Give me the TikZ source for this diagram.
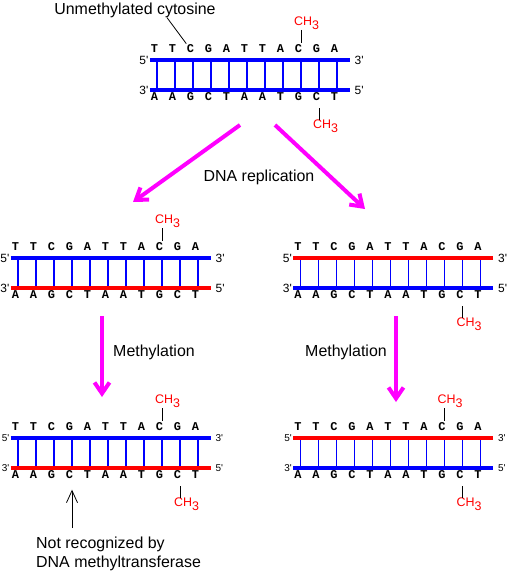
\documentclass[tikz,border=0pt]{standalone}
\usepackage{fontspec}
\setsansfont{Liberation Sans}
\setmonofont{Liberation Mono}
\usepackage{tikz}
\usetikzlibrary{arrows.meta,positioning}

\definecolor{arrowpink}{RGB}{255,0,255}
\newcommand{\chthree}{CH\raisebox{-4bp}{3}}
\newcommand{\pr}{\textquotesingle}

\tikzset{
  base/.style={font=\ttfamily\bfseries\fontsize{12}{12}\selectfont, inner sep=0pt, text height=7bp, text depth=0pt},
  methyl/.style={font=\sffamily\fontsize{12.5}{12.5}\selectfont, text=red, inner sep=0pt},
  endlabel/.style={font=\sffamily\fontsize{12}{12}\selectfont, inner sep=1bp},
  note/.style={font=\sffamily\fontsize{16}{19}\selectfont, inner sep=0pt},
  strandB/.style={line width=4bp, blue},
  strandR/.style={line width=4bp, red},
  rung/.style={line width=1.4bp, blue},
  tick/.style={line width=0.8bp},
  bigarrow/.style={arrowpink, line width=4bp, -{Straight Barb[length=11bp,width=15bp]}},
  pointer/.style={line width=0.8bp, -{Straight Barb[length=12bp,width=11bp]}}
}

\begin{document}
\begin{tikzpicture}[x=1bp, y=-1bp, >=Stealth]
  \useasboundingbox (0,0) rectangle (509,572);

  \begin{scope}[shift={(157,60)}]
    \foreach \i in {0,...,10} {
      \coordinate (par-u\i) at (18*\i,0);
      \coordinate (par-d\i) at (18*\i,30);
      \draw[rung] (par-u\i) -- (par-d\i);
    }
    \foreach \b [count=\i from 0] in {T,T,C,G,A,T,T,A,C,G,A}
      \node[base] (par-t\i) at (18*\i-2.5,-11) {\b};
    \foreach \b [count=\i from 0] in {A,A,G,C,T,A,A,T,G,C,T}
      \node[base] (par-b\i) at (18*\i-2.5,37) {\b};
    \coordinate (par-tl) at (-7.5,0);
    \coordinate (par-tr) at (192.5,0);
    \coordinate (par-bl) at (-7.5,30);
    \coordinate (par-br) at (192.5,30);
    \draw[strandB] (par-tl) -- (par-tr);
    \draw[strandB] (par-bl) -- (par-br);
    \node[endlabel, left] (par-e1) at (par-tl) {5\pr};
    \node[endlabel, right=4bp] (par-e2) at (par-tr) {3\pr};
    \node[endlabel, left] (par-e3) at (par-bl) {3\pr};
    \node[endlabel, right=4bp] (par-e4) at (par-br) {5\pr};
    \node[methyl, anchor=south west] (par-m1) at (137,-30) {\chthree};
    \draw[tick, shorten >=2.5bp] (par-m1.south -| par-u8) -- (par-t8.north -| par-u8);
    \node[methyl, anchor=north west] (par-m2) at (156,60) {\chthree};
    \draw[tick, shorten <=7.5bp] (par-b9.south -| par-d9) -- (par-m2.north -| par-d9);
  \end{scope}

  \node[note] (unmeth) at (135,10) {Unmethylated cytosine};
  \draw[tick, shorten >=2bp] ([xshift=32bp]unmeth.south) -- ([xshift=-3bp]par-t2.north);

  \coordinate (repl-a) at (240,125);
  \coordinate (repl-b) at (133,202);
  \coordinate (repl-c) at (275,125);
  \coordinate (repl-d) at (365,209);
  \draw[bigarrow] (repl-a) -- (repl-b);
  \draw[bigarrow] (repl-c) -- (repl-d);
  \node[note] (repl) at (259,177) {DNA replication};

  \begin{scope}[shift={(18,258)}]
    \foreach \i in {0,...,10} {
      \coordinate (dl-u\i) at (18*\i,0);
      \coordinate (dl-d\i) at (18*\i,30);
      \draw[rung] (dl-u\i) -- (dl-d\i);
    }
    \foreach \b [count=\i from 0] in {T,T,C,G,A,T,T,A,C,G,A}
      \node[base] (dl-t\i) at (18*\i-2.5,-11) {\b};
    \foreach \b [count=\i from 0] in {A,A,G,C,T,A,A,T,G,C,T}
      \node[base] (dl-b\i) at (18*\i-2.5,37) {\b};
    \coordinate (dl-tl) at (-7.5,0);
    \coordinate (dl-tr) at (192.5,0);
    \coordinate (dl-bl) at (-7.5,30);
    \coordinate (dl-br) at (192.5,30);
    \draw[strandB] (dl-tl) -- (dl-tr);
    \draw[strandR] (dl-bl) -- (dl-br);
    \node[endlabel, left] (dl-e1) at (dl-tl) {5\pr};
    \node[endlabel, right=4bp] (dl-e2) at (dl-tr) {3\pr};
    \node[endlabel, left] (dl-e3) at (dl-bl) {3\pr};
    \node[endlabel, right=4bp] (dl-e4) at (dl-br) {5\pr};
    \node[methyl, anchor=south west] (dl-m1) at (137,-30) {\chthree};
    \draw[tick, shorten >=2.5bp] (dl-m1.south -| dl-u8) -- (dl-t8.north -| dl-u8);
  \end{scope}

  \begin{scope}[shift={(300.5,258)}]
    \foreach \i in {0,...,10} {
      \coordinate (dr-u\i) at (18*\i,0);
      \coordinate (dr-d\i) at (18*\i,30);
      \draw[rung] (dr-u\i) -- (dr-d\i);
    }
    \foreach \b [count=\i from 0] in {T,T,C,G,A,T,T,A,C,G,A}
      \node[base] (dr-t\i) at (18*\i-2.5,-11) {\b};
    \foreach \b [count=\i from 0] in {A,A,G,C,T,A,A,T,G,C,T}
      \node[base] (dr-b\i) at (18*\i-2.5,37) {\b};
    \coordinate (dr-tl) at (-7.5,0);
    \coordinate (dr-tr) at (192.5,0);
    \coordinate (dr-bl) at (-7.5,30);
    \coordinate (dr-br) at (192.5,30);
    \draw[strandR] (dr-tl) -- (dr-tr);
    \draw[strandB] (dr-bl) -- (dr-br);
    \node[endlabel, left] (dr-e1) at (dr-tl) {5\pr};
    \node[endlabel, right=4bp] (dr-e2) at (dr-tr) {3\pr};
    \node[endlabel, left] (dr-e3) at (dr-bl) {3\pr};
    \node[endlabel, right=4bp] (dr-e4) at (dr-br) {5\pr};
    \node[methyl, anchor=north west] (dr-m2) at (156,60) {\chthree};
    \draw[tick, shorten <=7.5bp] (dr-b9.south -| dr-d9) -- (dr-m2.north -| dr-d9);
  \end{scope}

  \coordinate (meth-a) at (102,316);
  \coordinate (meth-b) at (102,397);
  \coordinate (meth-c) at (396,316);
  \coordinate (meth-d) at (396,402);
  \draw[bigarrow] (meth-a) -- (meth-b);
  \draw[bigarrow] (meth-c) -- (meth-d);
  \node[note] (meth-l) at (154,352) {Methylation};
  \node[note] (meth-r) at (346,352) {Methylation};

  \begin{scope}[shift={(18,438)}, endlabel/.append style={font=\sffamily\fontsize{10}{10}\selectfont}]
    \foreach \i in {0,...,10} {
      \coordinate (ml-u\i) at (18*\i,0);
      \coordinate (ml-d\i) at (18*\i,30);
      \draw[rung] (ml-u\i) -- (ml-d\i);
    }
    \foreach \b [count=\i from 0] in {T,T,C,G,A,T,T,A,C,G,A}
      \node[base] (ml-t\i) at (18*\i-2.5,-11) {\b};
    \foreach \b [count=\i from 0] in {A,A,G,C,T,A,A,T,G,C,T}
      \node[base] (ml-b\i) at (18*\i-2.5,37) {\b};
    \coordinate (ml-tl) at (-7.5,0);
    \coordinate (ml-tr) at (192.5,0);
    \coordinate (ml-bl) at (-7.5,30);
    \coordinate (ml-br) at (192.5,30);
    \draw[strandB] (ml-tl) -- (ml-tr);
    \draw[strandR] (ml-bl) -- (ml-br);
    \node[endlabel, left] (ml-e1) at (ml-tl) {5\pr};
    \node[endlabel, right=4bp] (ml-e2) at (ml-tr) {3\pr};
    \node[endlabel, left] (ml-e3) at (ml-bl) {3\pr};
    \node[endlabel, right=4bp] (ml-e4) at (ml-br) {5\pr};
    \node[methyl, anchor=south west] (ml-m1) at (137,-30) {\chthree};
    \draw[tick, shorten >=2.5bp] (ml-m1.south -| ml-u8) -- (ml-t8.north -| ml-u8);
    \node[methyl, anchor=north west] (ml-m2) at (156,60) {\chthree};
    \draw[tick, shorten <=7.5bp] (ml-b9.south -| ml-d9) -- (ml-m2.north -| ml-d9);
  \end{scope}

  \node[note, align=left, anchor=north west] (notrec) at (36,537) {Not recognized by\\DNA methyltransferase};
  \draw[pointer, shorten <=9bp, shorten >=11bp] (notrec.north -| ml-d3) -- (ml-b3.south -| ml-d3);

  \begin{scope}[shift={(300.5,438)}, endlabel/.append style={font=\sffamily\fontsize{10}{10}\selectfont}]
    \foreach \i in {0,...,10} {
      \coordinate (mr-u\i) at (18*\i,0);
      \coordinate (mr-d\i) at (18*\i,30);
      \draw[rung] (mr-u\i) -- (mr-d\i);
    }
    \foreach \b [count=\i from 0] in {T,T,C,G,A,T,T,A,C,G,A}
      \node[base] (mr-t\i) at (18*\i-2.5,-11) {\b};
    \foreach \b [count=\i from 0] in {A,A,G,C,T,A,A,T,G,C,T}
      \node[base] (mr-b\i) at (18*\i-2.5,37) {\b};
    \coordinate (mr-tl) at (-7.5,0);
    \coordinate (mr-tr) at (192.5,0);
    \coordinate (mr-bl) at (-7.5,30);
    \coordinate (mr-br) at (192.5,30);
    \draw[strandR] (mr-tl) -- (mr-tr);
    \draw[strandB] (mr-bl) -- (mr-br);
    \node[endlabel, left] (mr-e1) at (mr-tl) {5\pr};
    \node[endlabel, right=4bp] (mr-e2) at (mr-tr) {3\pr};
    \node[endlabel, left] (mr-e3) at (mr-bl) {3\pr};
    \node[endlabel, right=4bp] (mr-e4) at (mr-br) {5\pr};
    \node[methyl, anchor=south west] (mr-m1) at (137,-30) {\chthree};
    \draw[tick, shorten >=2.5bp] (mr-m1.south -| mr-u8) -- (mr-t8.north -| mr-u8);
    \node[methyl, anchor=north west] (mr-m2) at (156,60) {\chthree};
    \draw[tick, shorten <=7.5bp] (mr-b9.south -| mr-d9) -- (mr-m2.north -| mr-d9);
  \end{scope}
\end{tikzpicture}
\end{document}
